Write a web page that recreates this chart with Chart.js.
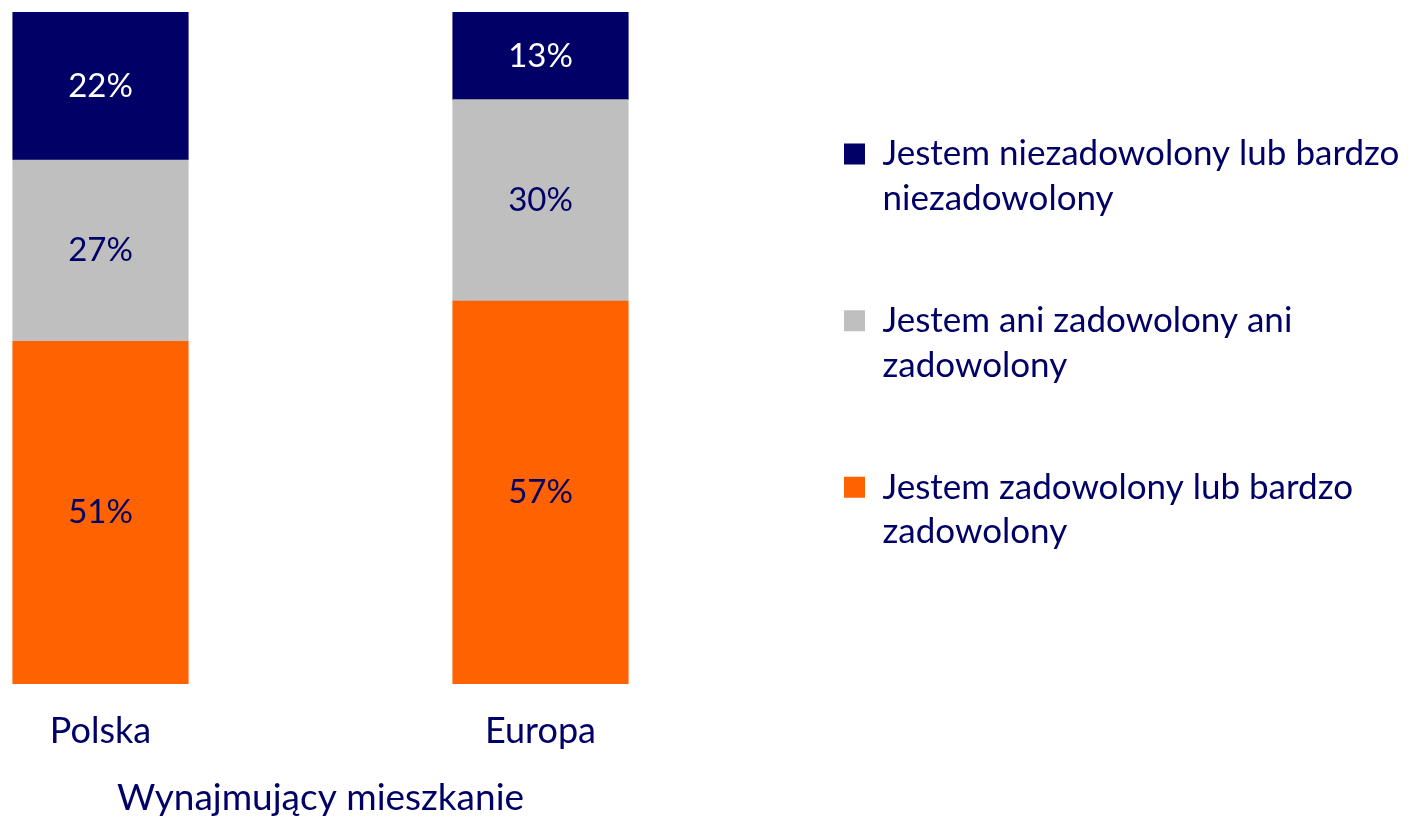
<!DOCTYPE html>
<html lang="pl">
<head>
<meta charset="utf-8">
<title>Wynajmujący mieszkanie</title>
<script src="https://cdn.jsdelivr.net/npm/chart.js@4.4.1/dist/chart.umd.min.js"></script>
<style>
  html, body { margin: 0; padding: 0; background: #fff; }
  #wrap { width: 1416px; height: 820px; position: relative; }
</style>
</head>
<body>
<div id="wrap"><canvas id="chart"></canvas></div>
<script>
// Stacked 100% bars: satisfaction of tenants, Poland vs Europe.
const categories = ["Polska", "Europa"];
const groupLabel = "Wynajmujący mieszkanie";

// legend texts, already split into the two lines used in the picture
const labelDissatisfied = ["Jestem niezadowolony lub bardzo", "niezadowolony"];
const labelNeutral = ["Jestem ani zadowolony ani", "zadowolony"];
const labelSatisfied = ["Jestem zadowolony lub bardzo", "zadowolony"];

// values in %, bottom to top of each bar
const satisfied = [51, 57];
const neutral = [27, 30];
const dissatisfied = [22, 13];

const NAVY = "#000066";
const GREY = "#BFBFBF";
const ORANGE = "#FF6200";
const FONT = "Lato, 'Open Sans', sans-serif";

// draws the "22%" style numbers in the middle of every segment
const valueLabels = {
  id: "valueLabels",
  afterDatasetsDraw(chart) {
    const { ctx } = chart;
    ctx.save();
    ctx.font = `33px ${FONT}`;
    ctx.textAlign = "center";
    ctx.textBaseline = "middle";
    chart.data.datasets.forEach((ds, i) => {
      const meta = chart.getDatasetMeta(i);
      meta.data.forEach((bar, j) => {
        const p = bar.getCenterPoint();
        ctx.fillStyle = ds.valueColor;
        ctx.fillText(`${ds.data[j]}%`, p.x, p.y);
      });
    });
    ctx.restore();
  },
};

new Chart(document.getElementById("chart"), {
  type: "bar",
  data: {
    labels: categories,
    datasets: [
      { label: labelSatisfied, data: satisfied, backgroundColor: ORANGE, valueColor: NAVY },
      { label: labelNeutral, data: neutral, backgroundColor: GREY, valueColor: NAVY },
      { label: labelDissatisfied, data: dissatisfied, backgroundColor: NAVY, valueColor: "#FFFFFF" },
    ],
  },
  options: {
    responsive: true,
    maintainAspectRatio: false,
    animation: false,
    layout: { padding: { left: 100.5, top: 12.3, right: 9, bottom: 0 } },
    datasets: { bar: { barThickness: 175.5, borderWidth: 0, clip: false } },
    scales: {
      x: {
        stacked: true,
        offset: false,
        grid: { display: false, drawTicks: false },
        border: { display: false },
        ticks: {
          color: NAVY,
          font: { family: FONT, size: 36 },
          padding: 26,
          maxRotation: 0,
          autoSkip: false,
        },
        title: {
          display: true,
          text: groupLabel,
          color: NAVY,
          font: { family: FONT, size: 37 },
          padding: { top: 0, bottom: 0 },
        },
        afterFit: (scale) => { scale.height = 136.3; },
      },
      y: {
        stacked: true,
        min: 0,
        max: 100,
        position: "right",
        ticks: { display: false },
        grid: { display: false },
        border: { display: false },
        // keeps the empty gap between the bars and the legend
        afterFit: (scale) => { scale.width = 226.5; },
      },
    },
    plugins: {
      legend: {
        position: "right",
        fullSize: false,
        reverse: true,
        maxWidth: 640,
        labels: {
          color: NAVY,
          font: { family: FONT, size: 35, lineHeight: 1.28 },
          boxWidth: 21,
          boxHeight: 21,
          padding: 77,
        },
      },
      tooltip: { enabled: false },
    },
  },
  plugins: [valueLabels],
});
</script>
</body>
</html>
